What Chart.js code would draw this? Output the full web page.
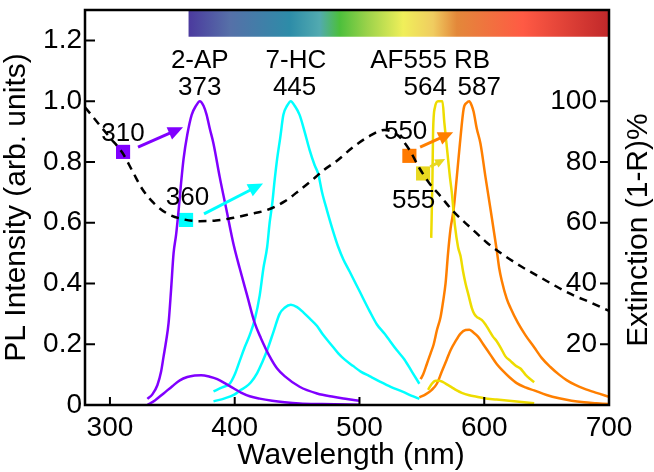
<!DOCTYPE html>
<html>
<head>
<meta charset="utf-8">
<script src="https://cdn.jsdelivr.net/npm/chart.js@4.4.0/dist/chart.umd.min.js"></script>
<style>
  body { margin: 0; background: #fff; }
</style>
</head>
<body>
<canvas id="plChart" width="654" height="472"></canvas>
<script>
// axis ticks
const xTicks = [300, 400, 500, 600, 700];
const yTicks = [0, 0.2, 0.4, 0.6, 0.8, 1.0, 1.2];
const extTicks = [20, 40, 60, 80, 100];

// 2-AP emission (strong / weak)
const apHiWl = [330, 334, 338, 341, 343, 345, 347, 349, 351, 353, 355, 357, 359, 362, 365.5, 369, 372, 375, 377.5, 380, 383, 388, 393.5, 399, 404, 410, 416, 421, 428, 434, 440, 452, 466, 479, 490, 500];
const apHi = [0.02, 0.035, 0.065, 0.11, 0.16, 0.21, 0.27, 0.38, 0.5, 0.56, 0.64, 0.73, 0.81, 0.89, 0.955, 0.985, 1.0, 0.985, 0.955, 0.91, 0.86, 0.75, 0.64, 0.53, 0.45, 0.36, 0.27, 0.22, 0.16, 0.12, 0.095, 0.06, 0.038, 0.027, 0.02, 0.014];
const apLoWl = [330, 336, 343, 350, 356, 362, 368, 373, 380, 386, 392, 399, 405, 412, 420, 430, 440, 452, 470, 500];
const apLo = [0.0, 0.015, 0.038, 0.062, 0.081, 0.092, 0.097, 0.098, 0.093, 0.085, 0.072, 0.055, 0.041, 0.029, 0.021, 0.014, 0.009, 0.005, 0.003, 0.001];

// 7-HC emission
const hcHiWl = [383, 390, 396, 400, 404, 408, 412, 416, 420, 423, 426, 428, 430, 432, 434, 436.5, 439, 442, 445, 448, 452, 456, 460, 464, 467, 470, 474, 479, 483, 487, 492, 500, 508, 514, 520, 530, 536, 542, 548];
const hcHi = [0.045, 0.058, 0.07, 0.1, 0.145, 0.19, 0.23, 0.28, 0.36, 0.45, 0.52, 0.6, 0.66, 0.74, 0.81, 0.88, 0.955, 0.985, 1.0, 0.985, 0.955, 0.9, 0.84, 0.79, 0.76, 0.7, 0.64, 0.57, 0.52, 0.48, 0.44, 0.375, 0.31, 0.265, 0.235, 0.18, 0.15, 0.11, 0.07];
const hcLoWl = [383, 392, 400, 405, 409, 413, 418, 422, 426, 431, 436, 440, 445, 450, 455, 460, 466, 471, 477, 483, 488, 495, 501, 508, 516, 525, 535, 542, 548];
const hcLo = [0.012, 0.022, 0.035, 0.05, 0.06, 0.075, 0.105, 0.14, 0.18, 0.24, 0.3, 0.32, 0.33, 0.322, 0.305, 0.285, 0.26, 0.23, 0.2, 0.17, 0.15, 0.128, 0.11, 0.095, 0.078, 0.06, 0.043, 0.03, 0.02];

// AF555 emission
const afHiWl = [557.5, 558.5, 559, 560.5, 563, 565, 566.5, 568, 569.5, 571, 572.5, 574, 576.5, 579, 581, 583, 585, 587.5, 590, 592, 594, 596, 598, 601, 604, 607, 610, 613, 617, 621, 625, 629, 633, 637, 640];
const afHi = [0.55, 0.75, 0.9, 0.98, 1.0, 1.0, 1.0, 0.93, 0.87, 0.81, 0.75, 0.7, 0.59, 0.52, 0.49, 0.44, 0.4, 0.36, 0.32, 0.3, 0.29, 0.285, 0.28, 0.265, 0.245, 0.225, 0.21, 0.19, 0.16, 0.145, 0.13, 0.12, 0.1, 0.085, 0.075];
const afLoWl = [555, 558, 561, 564, 567, 570, 574, 578, 582, 588, 594, 600, 610, 620, 630, 640];
const afLo = [0.05, 0.07, 0.08, 0.08, 0.075, 0.068, 0.058, 0.048, 0.04, 0.032, 0.027, 0.022, 0.018, 0.014, 0.01, 0.006];

// RB emission
const rbHiWl = [549, 551, 554, 557, 559.5, 562, 565, 567, 569, 571, 573, 575.5, 578, 580.5, 583.5, 586, 588, 590, 591.5, 594, 597, 601, 605, 610, 612, 614, 618, 621, 627, 633, 640, 646, 653, 660, 666, 673, 680, 690, 700];
const rbHi = [0.085, 0.1, 0.135, 0.17, 0.2, 0.245, 0.29, 0.34, 0.4, 0.5, 0.58, 0.645, 0.75, 0.86, 0.975, 0.995, 1.0, 0.985, 0.965, 0.91, 0.86, 0.75, 0.645, 0.51, 0.45, 0.41, 0.35, 0.32, 0.27, 0.23, 0.19, 0.155, 0.125, 0.1, 0.082, 0.066, 0.054, 0.04, 0.027];
const rbLoWl = [548, 553, 558, 562, 566, 570, 573, 577, 581, 585, 588, 591, 595, 600, 605, 610, 615, 620, 626, 633, 640, 650, 660, 670, 680, 690, 700];
const rbLo = [0.025, 0.035, 0.05, 0.07, 0.11, 0.15, 0.18, 0.21, 0.235, 0.247, 0.248, 0.24, 0.225, 0.195, 0.165, 0.135, 0.112, 0.092, 0.072, 0.058, 0.048, 0.033, 0.022, 0.014, 0.009, 0.006, 0.003];

// extinction (1-R)% of the nanostructure, right axis
const extWl = [280, 290, 300, 310, 318, 326, 335, 346, 360, 372, 385, 399, 412, 426, 440, 452, 462, 472, 482, 495, 508, 520, 530, 540, 548, 556, 565, 575, 590, 602, 615, 630, 645, 660, 672, 685, 700];
const ext = [98, 93, 88, 83, 77, 71, 66.5, 63, 61, 60.5, 60.7, 61.6, 62.8, 64.2, 67, 70.7, 74, 77.5, 80.4, 84.9, 88.5, 90.5, 89, 84, 78, 73, 68.7, 63.8, 58, 53.5, 49.5, 45.5, 42, 38.5, 36, 33.8, 31];

// excitation wavelengths (markers)
const exNm = [310.5, 361, 540, 551];
const exVal = [0.833, 0.609, 0.82, 0.762];
const exText = ['310', '360', '550', '555'];
const exColors = ['#8000ff', '#00ffff', '#ff7a00', '#e8d820'];

// peak labels
const nameText = ['2-AP', '7-HC', 'AF555 RB'];
const nameNm = [372, 449, 556.7];
const peakText = ['373', '445', '564', '587'];
const peakNm = [372, 448, 552.7, 596];

// spectrum bar
const rainbowNm = [363, 396, 444, 468, 484, 506, 535, 559, 578, 631, 700];
const rainbowColors = ['#4b3a9e', '#5670a8', '#2d8ca8', '#52aab0', '#4cbf3c', '#9ad24a', '#f0ef5a', '#f0cc60', '#e3883a', '#ff5a44', '#c0282a'];

const pts = (xs, ys) => xs.map((x, i) => ({ x: x, y: ys[i] }));

const FONT = 'Liberation Sans, Arial, sans-serif';

function arrow(ctx, x0, y0, x1, y1, color, head) {
  const a = Math.atan2(y1 - y0, x1 - x0);
  ctx.save();
  ctx.strokeStyle = color;
  ctx.fillStyle = color;
  ctx.lineWidth = 3;
  ctx.beginPath();
  ctx.moveTo(x0, y0);
  ctx.lineTo(x1 - Math.cos(a) * head * 0.8, y1 - Math.sin(a) * head * 0.8);
  ctx.stroke();
  ctx.beginPath();
  ctx.moveTo(x1, y1);
  ctx.lineTo(x1 - head * Math.cos(a) + head * 0.45 * Math.sin(a), y1 - head * Math.sin(a) - head * 0.45 * Math.cos(a));
  ctx.lineTo(x1 - head * Math.cos(a) - head * 0.45 * Math.sin(a), y1 - head * Math.sin(a) + head * 0.45 * Math.cos(a));
  ctx.closePath();
  ctx.fill();
  ctx.restore();
}

const decor = {
  id: 'decor',
  beforeDatasetsDraw(chart) {
    const { ctx, scales: { x, y } } = chart;
    const x0 = x.getPixelForValue(rainbowNm[0]);
    const x1 = x.getPixelForValue(rainbowNm[rainbowNm.length - 1]);
    const g = ctx.createLinearGradient(x0, 0, x1, 0);
    rainbowNm.forEach((nm, i) => g.addColorStop((x.getPixelForValue(nm) - x0) / (x1 - x0), rainbowColors[i]));
    const top = y.getPixelForValue(1.3), bot = y.getPixelForValue(1.212);
    ctx.save();
    ctx.fillStyle = g;
    ctx.fillRect(x0, top, x1 - x0, bot - top);
    ctx.restore();
  },
  afterDraw(chart) {
    const { ctx, chartArea: ca, scales: { x, y, y1 } } = chart;
    const px = v => x.getPixelForValue(v), py = v => y.getPixelForValue(v);

    // arrows from excitation markers
    arrow(ctx, px(322.5), py(0.849), px(358.6), py(0.914), '#8000ff', 15);
    arrow(ctx, px(375.4), py(0.629), px(422.7), py(0.729), '#00ffff', 15);
    arrow(ctx, px(548.6), py(0.849), px(575.1), py(0.898), '#ff7f00', 15);
    arrow(ctx, px(556.7), py(0.784), px(568.7), py(0.81), '#e8d820', 10);

    ctx.save();
    ctx.fillStyle = '#000';
    ctx.textAlign = 'center';
    ctx.textBaseline = 'alphabetic';
    ctx.font = '26px ' + FONT;
    nameText.forEach((t, i) => ctx.fillText(t, px(nameNm[i]), py(1.11)));
    peakText.forEach((t, i) => ctx.fillText(t, px(peakNm[i]), py(1.02)));
    const exLabNm = [310.5, 362.2, 537, 543.4];
    const exLabY = [0.869, 0.658, 0.875, 0.648];
    exText.forEach((t, i) => ctx.fillText(t, px(exLabNm[i]), py(exLabY[i])));

    // frame
    ctx.strokeStyle = '#000';
    ctx.lineWidth = 2.5;
    ctx.strokeRect(ca.left, ca.top, ca.right - ca.left, ca.bottom - ca.top);

    // inward ticks
    ctx.lineWidth = 2;
    ctx.beginPath();
    xTicks.forEach(v => { ctx.moveTo(px(v), ca.bottom); ctx.lineTo(px(v), ca.bottom - 8); });
    yTicks.forEach(v => { ctx.moveTo(ca.left, py(v)); ctx.lineTo(ca.left + 10, py(v)); });
    extTicks.forEach(v => { const yy = y1.getPixelForValue(v); ctx.moveTo(ca.right, yy); ctx.lineTo(ca.right - 9, yy); });
    ctx.stroke();

    // axis titles
    ctx.font = '30px ' + FONT;
    ctx.fillText('Wavelength (nm)', (ca.left + ca.right) / 2 + 4, 464);
    ctx.translate(25, (ca.top + ca.bottom) / 2);
    ctx.rotate(-Math.PI / 2);
    ctx.fillText('PL Intensity (arb. units)', 0, 0);
    ctx.restore();
    ctx.save();
    ctx.fillStyle = '#000';
    ctx.textAlign = 'center';
    ctx.font = '30px ' + FONT;
    ctx.translate(647, 230);
    ctx.rotate(-Math.PI / 2);
    ctx.fillText('Extinction (1-R)%', 0, 0);
    ctx.restore();
  }
};

const line = (data, color, extra) => Object.assign({
  type: 'line', data: data, borderColor: color, borderWidth: 2.5,
  pointRadius: 0, fill: false, cubicInterpolationMode: 'monotone', yAxisID: 'y'
}, extra || {});

const tickFont = { family: FONT, size: 28 };

// keep the plot box fixed: no extra padding for edge labels
const noPad = s => { s.paddingTop = 0; s.paddingBottom = 0; s.paddingLeft = 0; s.paddingRight = 0; };

new Chart(document.getElementById('plChart'), {
  data: {
    datasets: [
      line(pts(extWl, ext), '#000', { yAxisID: 'y1', borderDash: [8, 6] }),
      line(pts(apHiWl, apHi), '#8000ff'),
      line(pts(apLoWl, apLo), '#8000ff'),
      line(pts(hcHiWl, hcHi), '#00ffff'),
      line(pts(hcLoWl, hcLo), '#00ffff'),
      line(pts(afHiWl, afHi), '#eedc00'),
      line(pts(afLoWl, afLo), '#eedc00'),
      line(pts(rbHiWl, rbHi), '#ff7f00'),
      line(pts(rbLoWl, rbLo), '#ff7f00'),
      {
        type: 'scatter', data: pts(exNm, exVal), yAxisID: 'y',
        pointStyle: 'rect', pointRadius: 10, borderWidth: 0,
        backgroundColor: exColors, pointBackgroundColor: exColors
      }
    ]
  },
  options: {
    responsive: false,
    devicePixelRatio: 1,
    animation: false,
    layout: { padding: { top: 5 } },
    plugins: { legend: { display: false }, tooltip: { enabled: false } },
    scales: {
      x: {
        type: 'linear', min: 280, max: 700,
        afterBuildTicks: s => { s.ticks = xTicks.map(v => ({ value: v })); },
        afterFit: s => { s.height = 67; noPad(s); },
        grid: { display: false, drawTicks: false },
        border: { display: false },
        ticks: { font: tickFont, color: '#000', padding: 6, maxRotation: 0, autoSkip: false }
      },
      y: {
        type: 'linear', position: 'left', min: 0, max: 1.3,
        afterBuildTicks: s => { s.ticks = yTicks.map(v => ({ value: v })); },
        afterFit: s => { s.width = 85; noPad(s); },
        grid: { display: false, drawTicks: false },
        border: { display: false },
        ticks: { font: tickFont, color: '#000', padding: 3, callback: v => v === 0 ? '0' : v.toFixed(1) }
      },
      y1: {
        type: 'linear', position: 'right', min: 0, max: 130,
        afterBuildTicks: s => { s.ticks = extTicks.map(v => ({ value: v })); },
        afterFit: s => { s.width = 45; noPad(s); },
        grid: { display: false, drawTicks: false },
        border: { display: false },
        ticks: { font: tickFont, color: '#000', mirror: true, padding: -12 }
      }
    }
  },
  plugins: [decor]
});
</script>
</body>
</html>
